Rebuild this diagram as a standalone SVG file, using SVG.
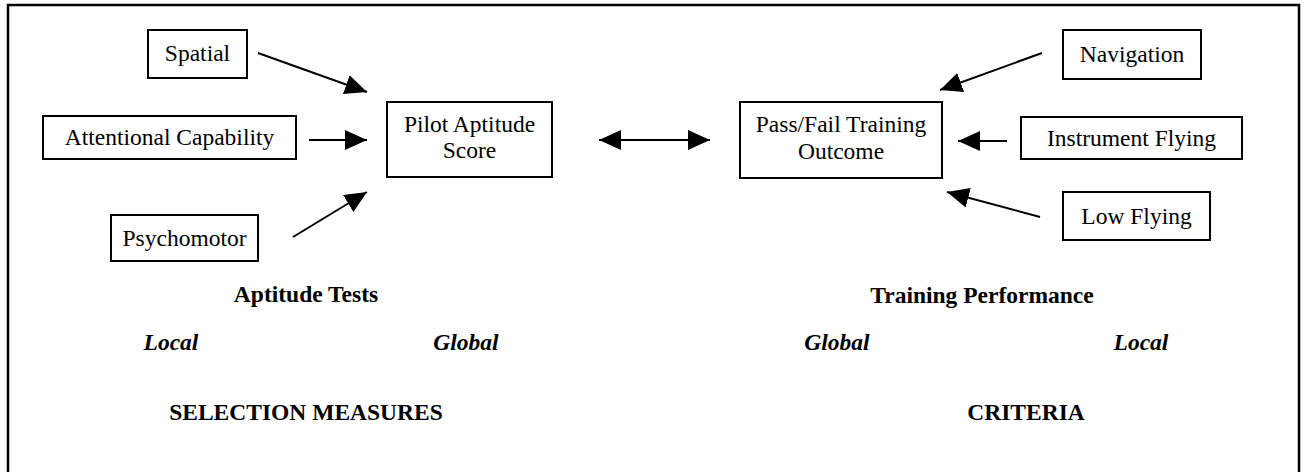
<svg xmlns="http://www.w3.org/2000/svg" width="1304" height="472" viewBox="0 0 1304 472">
<style>
.box{fill:#fff;stroke:#000;stroke-width:2}
.t{font-family:"Liberation Serif","Times New Roman",serif;font-size:23.5px;fill:#000;text-anchor:middle}
.b{font-weight:bold}
.bi{font-weight:bold;font-style:italic}
.c{stroke:#000;stroke-width:2;fill:none}
.frame{stroke:#000;stroke-width:2.5;fill:none}
</style>
<defs>
<marker id="ah" markerUnits="userSpaceOnUse" markerWidth="24" markerHeight="20" refX="22" refY="10" orient="auto">
<path d="M0,0 L22,10 L0,20 Z" fill="#000"/>
</marker>
<marker id="ahs" markerUnits="userSpaceOnUse" markerWidth="24" markerHeight="20" refX="0" refY="10" orient="auto">
<path d="M22,0 L0,10 L22,20 Z" fill="#000"/>
</marker>
</defs>
<rect width="1304" height="472" fill="#fff"/>
<path class="frame" d="M8,474 L8,5 L1299,5 L1299,474"/>

<g id="spatial"><rect class="box" x="148" y="30" width="99" height="48"/><text class="t" x="197.5" y="61">Spatial</text></g>
<g id="attentional"><rect class="box" x="43" y="116" width="253" height="43"/><text class="t" x="169.5" y="145">Attentional Capability</text></g>
<g id="psychomotor"><rect class="box" x="111" y="215" width="147" height="46"/><text class="t" x="184.5" y="246">Psychomotor</text></g>
<g id="pilot"><rect class="box" x="387" y="102" width="165" height="75"/><text class="t" x="469.5" y="132">Pilot Aptitude</text><text class="t" x="469.5" y="158">Score</text></g>
<g id="passfail"><rect class="box" x="740" y="102" width="202" height="76"/><text class="t" x="841" y="132">Pass/Fail Training</text><text class="t" x="841" y="159">Outcome</text></g>
<g id="navigation"><rect class="box" x="1063" y="30" width="138" height="49"/><text class="t" x="1132" y="62">Navigation</text></g>
<g id="instrument"><rect class="box" x="1021" y="117" width="221" height="42"/><text class="t" x="1131.5" y="146">Instrument Flying</text></g>
<g id="lowflying"><rect class="box" x="1063" y="192" width="147" height="48"/><text class="t" x="1136.5" y="224">Low Flying</text></g>

<g id="connectors">
<line class="c" x1="258" y1="53" x2="367" y2="92" marker-end="url(#ah)"/>
<line class="c" x1="309" y1="140" x2="367" y2="140" marker-end="url(#ah)"/>
<line class="c" x1="293" y1="237" x2="367" y2="192" marker-end="url(#ah)"/>
<line class="c" x1="599" y1="140" x2="710" y2="140" marker-start="url(#ahs)" marker-end="url(#ah)"/>
<line class="c" x1="1042" y1="53" x2="940" y2="90" marker-end="url(#ah)"/>
<line class="c" x1="1007" y1="141" x2="958" y2="141" marker-end="url(#ah)"/>
<line class="c" x1="1040" y1="217" x2="947" y2="192" marker-end="url(#ah)"/>
</g>

<g id="labels">
<text class="t b" x="306" y="302">Aptitude Tests</text>
<text class="t b" x="982" y="303">Training Performance</text>
<text class="t bi" x="171" y="350">Local</text>
<text class="t bi" x="466" y="350">Global</text>
<text class="t bi" x="837" y="350">Global</text>
<text class="t bi" x="1141" y="350">Local</text>
<text class="t b" x="306" y="420">SELECTION MEASURES</text>
<text class="t b" x="1026" y="420">CRITERIA</text>
</g>
</svg>
